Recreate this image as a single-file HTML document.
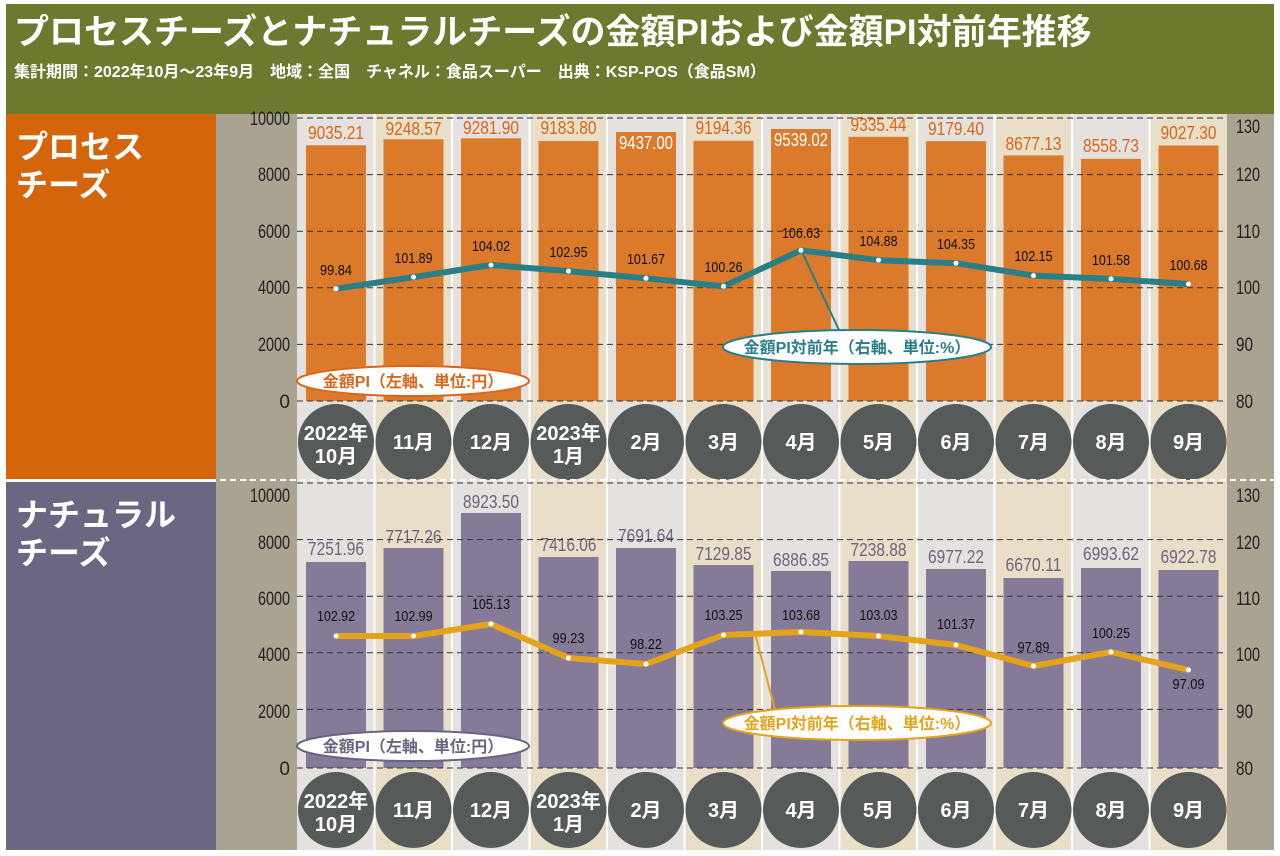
<!DOCTYPE html>
<html><head><meta charset="utf-8"><style>
html,body{margin:0;padding:0;background:#fff}
svg{display:block}
text{font-family:"Liberation Sans","Noto Sans CJK JP",sans-serif}
.j{font-family:"Liberation Sans","Noto Sans CJK JP",sans-serif;font-weight:bold}
.ax{font-size:19px;fill:#222}
.ob{font-size:18px;fill:#d9661a}
.pb{font-size:18px;fill:#6b6480}
.lv{font-size:15px;fill:#111}
</style></head><body>
<svg width="1280" height="856" viewBox="0 0 1280 856" xmlns="http://www.w3.org/2000/svg">
<rect x="0" y="0" width="1280" height="856" fill="#fff"/>
<rect x="6" y="4" width="1268" height="110" fill="#6b7a2e"/>
<text x="14" y="44" class="j" font-size="35" fill="#fff">プロセスチーズとナチュラルチーズの金額PIおよび金額PI対前年推移</text>
<text x="14" y="77" class="j" font-size="16" fill="#fff">集計期間：2022年10月～23年9月　地域：全国　チャネル：食品スーパー　出典：KSP-POS（食品SM）</text>
<rect x="6" y="114" width="210" height="365" fill="#d4650a"/>
<rect x="6" y="482" width="210" height="368" fill="#6c6682"/>
<text x="16" y="158" class="j" font-size="32" fill="#fff">プロセス</text>
<text x="16" y="196" class="j" font-size="32" fill="#fff">チーズ</text>
<text x="16" y="526" class="j" font-size="32" fill="#fff">ナチュラル</text>
<text x="16" y="564" class="j" font-size="32" fill="#fff">チーズ</text>
<rect x="216" y="114" width="81" height="736" fill="#aba392"/>
<rect x="1227" y="114" width="47" height="736" fill="#aba392"/>
<g>
<rect x="297" y="114" width="77.5" height="736" fill="#e5e1de"/>
<rect x="374.5" y="114" width="77.5" height="736" fill="#e9dfc9"/>
<rect x="452" y="114" width="77.5" height="736" fill="#e5e1de"/>
<rect x="529.5" y="114" width="77.5" height="736" fill="#e9dfc9"/>
<rect x="607" y="114" width="77.5" height="736" fill="#e5e1de"/>
<rect x="684.5" y="114" width="77.5" height="736" fill="#e9dfc9"/>
<rect x="762" y="114" width="77.5" height="736" fill="#e5e1de"/>
<rect x="839.5" y="114" width="77.5" height="736" fill="#e9dfc9"/>
<rect x="917" y="114" width="77.5" height="736" fill="#e5e1de"/>
<rect x="994.5" y="114" width="77.5" height="736" fill="#e9dfc9"/>
<rect x="1072" y="114" width="77.5" height="736" fill="#e5e1de"/>
<rect x="1149.5" y="114" width="77.5" height="736" fill="#e9dfc9"/>
</g>
<g stroke="#fff" stroke-width="2">
<line x1="374.5" y1="114" x2="374.5" y2="850"/><line x1="452" y1="114" x2="452" y2="850"/><line x1="529.5" y1="114" x2="529.5" y2="850"/><line x1="607" y1="114" x2="607" y2="850"/><line x1="684.5" y1="114" x2="684.5" y2="850"/><line x1="762" y1="114" x2="762" y2="850"/><line x1="839.5" y1="114" x2="839.5" y2="850"/><line x1="917" y1="114" x2="917" y2="850"/><line x1="994.5" y1="114" x2="994.5" y2="850"/><line x1="1072" y1="114" x2="1072" y2="850"/><line x1="1149.5" y1="114" x2="1149.5" y2="850"/>
</g>
<g fill="#db7a2b">
<rect x="306" y="145.3" width="60" height="255.7"/>
<rect x="383.5" y="139.3" width="60" height="261.7"/>
<rect x="461" y="138.3" width="60" height="262.7"/>
<rect x="538.5" y="141.1" width="60" height="259.9"/>
<rect x="616" y="132" width="60" height="269"/>
<rect x="693.5" y="140.8" width="60" height="260.2"/>
<rect x="771" y="129" width="60" height="272"/>
<rect x="848.5" y="136.8" width="60" height="264.2"/>
<rect x="926" y="141.2" width="60" height="259.8"/>
<rect x="1003.5" y="155.4" width="60" height="245.6"/>
<rect x="1081" y="158.8" width="60" height="242.2"/>
<rect x="1158.5" y="145.5" width="60" height="255.5"/>
</g>
<g text-anchor="middle" lengthAdjust="spacingAndGlyphs">
<text x="336" y="139" class="ob" textLength="56" lengthAdjust="spacingAndGlyphs">9035.21</text>
<text x="413.5" y="135" class="ob" textLength="56" lengthAdjust="spacingAndGlyphs">9248.57</text>
<text x="491" y="134" class="ob" textLength="56" lengthAdjust="spacingAndGlyphs">9281.90</text>
<text x="568.5" y="134" class="ob" textLength="56" lengthAdjust="spacingAndGlyphs">9183.80</text>
<text x="646" y="149" class="ob" style="fill:#fff" textLength="54" lengthAdjust="spacingAndGlyphs">9437.00</text>
<text x="723.5" y="134" class="ob" textLength="56" lengthAdjust="spacingAndGlyphs">9194.36</text>
<text x="801" y="146" class="ob" style="fill:#fff" textLength="54" lengthAdjust="spacingAndGlyphs">9539.02</text>
<text x="878.5" y="131" class="ob" textLength="56" lengthAdjust="spacingAndGlyphs">9335.44</text>
<text x="956" y="135" class="ob" textLength="56" lengthAdjust="spacingAndGlyphs">9179.40</text>
<text x="1033.5" y="150" class="ob" textLength="56" lengthAdjust="spacingAndGlyphs">8677.13</text>
<text x="1111" y="152" class="ob" textLength="56" lengthAdjust="spacingAndGlyphs">8558.73</text>
<text x="1188.5" y="139" class="ob" textLength="56" lengthAdjust="spacingAndGlyphs">9027.30</text>
</g>
<g stroke="#333" stroke-width="1" stroke-dasharray="6,4">
<line x1="297" y1="118" x2="1227" y2="118"/><line x1="297" y1="174.6" x2="1227" y2="174.6"/><line x1="297" y1="231.2" x2="1227" y2="231.2"/><line x1="297" y1="287.8" x2="1227" y2="287.8"/><line x1="297" y1="344.4" x2="1227" y2="344.4"/><line x1="297" y1="401" x2="1227" y2="401"/>
</g>
<g text-anchor="end">
<text x="290" y="125" class="ax" textLength="40" lengthAdjust="spacingAndGlyphs">10000</text><text x="290" y="181" class="ax" textLength="32" lengthAdjust="spacingAndGlyphs">8000</text><text x="290" y="238" class="ax" textLength="32" lengthAdjust="spacingAndGlyphs">6000</text><text x="290" y="294" class="ax" textLength="32" lengthAdjust="spacingAndGlyphs">4000</text><text x="290" y="351" class="ax" textLength="32" lengthAdjust="spacingAndGlyphs">2000</text><text x="290" y="408" class="ax">0</text>
</g>
<g>
<text x="1236" y="133" class="ax" textLength="24" lengthAdjust="spacingAndGlyphs">130</text><text x="1236" y="181" class="ax" textLength="24" lengthAdjust="spacingAndGlyphs">120</text><text x="1236" y="238" class="ax" textLength="24" lengthAdjust="spacingAndGlyphs">110</text><text x="1236" y="294" class="ax" textLength="24" lengthAdjust="spacingAndGlyphs">100</text><text x="1236" y="351" class="ax" textLength="17" lengthAdjust="spacingAndGlyphs">90</text><text x="1236" y="408" class="ax" textLength="17" lengthAdjust="spacingAndGlyphs">80</text>
</g>
<line x1="801" y1="250" x2="840" y2="332" stroke="#2a7f86" stroke-width="2"/>
<polyline points="336,288.7 413.5,277.1 491,265 568.5,271.1 646,278.3 723.5,286.3 801,250.3 878.5,260.2 956,263.2 1033.5,275.6 1111,278.9 1188.5,284" fill="none" stroke="#2a7f86" stroke-width="6" stroke-linejoin="round"/>
<g fill="#fff"><circle cx="336" cy="288.7" r="2.5"/><circle cx="413.5" cy="277.1" r="2.5"/><circle cx="491" cy="265" r="2.5"/><circle cx="568.5" cy="271.1" r="2.5"/><circle cx="646" cy="278.3" r="2.5"/><circle cx="723.5" cy="286.3" r="2.5"/><circle cx="801" cy="250.3" r="2.5"/><circle cx="878.5" cy="260.2" r="2.5"/><circle cx="956" cy="263.2" r="2.5"/><circle cx="1033.5" cy="275.6" r="2.5"/><circle cx="1111" cy="278.9" r="2.5"/><circle cx="1188.5" cy="284" r="2.5"/></g>
<g text-anchor="middle">
<text x="336" y="275" class="lv" textLength="32" lengthAdjust="spacingAndGlyphs">99.84</text><text x="413.5" y="263" class="lv" textLength="38" lengthAdjust="spacingAndGlyphs">101.89</text><text x="491" y="251" class="lv" textLength="38" lengthAdjust="spacingAndGlyphs">104.02</text><text x="568.5" y="257" class="lv" textLength="38" lengthAdjust="spacingAndGlyphs">102.95</text><text x="646" y="264" class="lv" textLength="38" lengthAdjust="spacingAndGlyphs">101.67</text><text x="723.5" y="272" class="lv" textLength="38" lengthAdjust="spacingAndGlyphs">100.26</text><text x="801" y="238" class="lv" textLength="38" lengthAdjust="spacingAndGlyphs">106.63</text><text x="878.5" y="246" class="lv" textLength="38" lengthAdjust="spacingAndGlyphs">104.88</text><text x="956" y="249" class="lv" textLength="38" lengthAdjust="spacingAndGlyphs">104.35</text><text x="1033.5" y="261" class="lv" textLength="38" lengthAdjust="spacingAndGlyphs">102.15</text><text x="1111" y="265" class="lv" textLength="38" lengthAdjust="spacingAndGlyphs">101.58</text><text x="1188.5" y="270" class="lv" textLength="38" lengthAdjust="spacingAndGlyphs">100.68</text>
</g>
<ellipse cx="413" cy="381" rx="116" ry="15" fill="#fff" stroke="#d9661a" stroke-width="2"/>
<text x="413" y="387" text-anchor="middle" class="j" font-size="16" fill="#d9661a">金額PI（左軸、単位:円）</text>
<ellipse cx="857" cy="347" rx="134" ry="17" fill="#fff" stroke="#2a7f86" stroke-width="2"/>
<text x="857" y="353" text-anchor="middle" class="j" font-size="16" fill="#2a7f86">金額PI対前年（右軸、単位:%）</text>
<g fill="#565a58">
<circle cx="336" cy="442" r="38"/><circle cx="413.5" cy="442" r="38"/><circle cx="491" cy="442" r="38"/><circle cx="568.5" cy="442" r="38"/><circle cx="646" cy="442" r="38"/><circle cx="723.5" cy="442" r="38"/><circle cx="801" cy="442" r="38"/><circle cx="878.5" cy="442" r="38"/><circle cx="956" cy="442" r="38"/><circle cx="1033.5" cy="442" r="38"/><circle cx="1111" cy="442" r="38"/><circle cx="1188.5" cy="442" r="38"/>
</g>
<g text-anchor="middle" class="j" font-size="20" fill="#fff">
<text x="336" y="440">2022年</text><text x="336" y="463">10月</text>
<text x="413.5" y="449">11月</text><text x="491" y="449">12月</text>
<text x="568.5" y="440">2023年</text><text x="568.5" y="463">1月</text>
<text x="646" y="449">2月</text><text x="723.5" y="449">3月</text><text x="801" y="449">4月</text><text x="878.5" y="449">5月</text><text x="956" y="449">6月</text><text x="1033.5" y="449">7月</text><text x="1111" y="449">8月</text><text x="1188.5" y="449">9月</text>
</g>
<line x1="0" y1="480" x2="1280" y2="480" stroke="#fff" stroke-width="2" stroke-dasharray="6,4"/>
<g fill="#857b98">
<rect x="306" y="562" width="60" height="206"/>
<rect x="383.5" y="548" width="60" height="220"/>
<rect x="461" y="513" width="60" height="255"/>
<rect x="538.5" y="557" width="60" height="211"/>
<rect x="616" y="548" width="60" height="220"/>
<rect x="693.5" y="565" width="60" height="203"/>
<rect x="771" y="571" width="60" height="197"/>
<rect x="848.5" y="561" width="60" height="207"/>
<rect x="926" y="569" width="60" height="199"/>
<rect x="1003.5" y="578" width="60" height="190"/>
<rect x="1081" y="568" width="60" height="200"/>
<rect x="1158.5" y="570" width="60" height="198"/>
</g>
<g text-anchor="middle">
<text x="336" y="555" class="pb" textLength="56" lengthAdjust="spacingAndGlyphs">7251.96</text>
<text x="413.5" y="543" class="pb" textLength="56" lengthAdjust="spacingAndGlyphs">7717.26</text>
<text x="491" y="508" class="pb" textLength="56" lengthAdjust="spacingAndGlyphs">8923.50</text>
<text x="568.5" y="551" class="pb" textLength="56" lengthAdjust="spacingAndGlyphs">7416.06</text>
<text x="646" y="542" class="pb" textLength="56" lengthAdjust="spacingAndGlyphs">7691.64</text>
<text x="723.5" y="560" class="pb" textLength="56" lengthAdjust="spacingAndGlyphs">7129.85</text>
<text x="801" y="566" class="pb" textLength="56" lengthAdjust="spacingAndGlyphs">6886.85</text>
<text x="878.5" y="556" class="pb" textLength="56" lengthAdjust="spacingAndGlyphs">7238.88</text>
<text x="956" y="563" class="pb" textLength="56" lengthAdjust="spacingAndGlyphs">6977.22</text>
<text x="1033.5" y="571" class="pb" textLength="56" lengthAdjust="spacingAndGlyphs">6670.11</text>
<text x="1111" y="560" class="pb" textLength="56" lengthAdjust="spacingAndGlyphs">6993.62</text>
<text x="1188.5" y="563" class="pb" textLength="56" lengthAdjust="spacingAndGlyphs">6922.78</text>
</g>
<g stroke="#333" stroke-width="1" stroke-dasharray="6,4">
<line x1="297" y1="483" x2="1227" y2="483"/><line x1="297" y1="539.6" x2="1227" y2="539.6"/><line x1="297" y1="596.2" x2="1227" y2="596.2"/><line x1="297" y1="652.8" x2="1227" y2="652.8"/><line x1="297" y1="709.4" x2="1227" y2="709.4"/><line x1="297" y1="768" x2="1227" y2="768"/>
</g>
<g text-anchor="end">
<text x="290" y="502" class="ax" textLength="40" lengthAdjust="spacingAndGlyphs">10000</text><text x="290" y="549" class="ax" textLength="32" lengthAdjust="spacingAndGlyphs">8000</text><text x="290" y="605" class="ax" textLength="32" lengthAdjust="spacingAndGlyphs">6000</text><text x="290" y="661" class="ax" textLength="32" lengthAdjust="spacingAndGlyphs">4000</text><text x="290" y="718" class="ax" textLength="32" lengthAdjust="spacingAndGlyphs">2000</text><text x="290" y="775" class="ax">0</text>
</g>
<g>
<text x="1236" y="502" class="ax" textLength="24" lengthAdjust="spacingAndGlyphs">130</text><text x="1236" y="549" class="ax" textLength="24" lengthAdjust="spacingAndGlyphs">120</text><text x="1236" y="605" class="ax" textLength="24" lengthAdjust="spacingAndGlyphs">110</text><text x="1236" y="661" class="ax" textLength="24" lengthAdjust="spacingAndGlyphs">100</text><text x="1236" y="718" class="ax" textLength="17" lengthAdjust="spacingAndGlyphs">90</text><text x="1236" y="775" class="ax" textLength="17" lengthAdjust="spacingAndGlyphs">80</text>
</g>
<line x1="756" y1="637" x2="775" y2="710" stroke="#e3a31a" stroke-width="2"/>
<polyline points="336,636 413.5,636 491,624 568.5,658 646,664 723.5,635 801,632 878.5,636 956,645 1033.5,666 1111,652 1188.5,670" fill="none" stroke="#e3a31a" stroke-width="6" stroke-linejoin="round"/>
<g fill="#fff"><circle cx="336" cy="636" r="2.5"/><circle cx="413.5" cy="636" r="2.5"/><circle cx="491" cy="624" r="2.5"/><circle cx="568.5" cy="658" r="2.5"/><circle cx="646" cy="664" r="2.5"/><circle cx="723.5" cy="635" r="2.5"/><circle cx="801" cy="632" r="2.5"/><circle cx="878.5" cy="636" r="2.5"/><circle cx="956" cy="645" r="2.5"/><circle cx="1033.5" cy="666" r="2.5"/><circle cx="1111" cy="652" r="2.5"/><circle cx="1188.5" cy="670" r="2.5"/></g>
<g text-anchor="middle">
<text x="336" y="621" class="lv" textLength="38" lengthAdjust="spacingAndGlyphs">102.92</text><text x="413.5" y="621" class="lv" textLength="38" lengthAdjust="spacingAndGlyphs">102.99</text><text x="491" y="609" class="lv" textLength="38" lengthAdjust="spacingAndGlyphs">105.13</text><text x="568.5" y="643" class="lv" textLength="32" lengthAdjust="spacingAndGlyphs">99.23</text><text x="646" y="649" class="lv" textLength="32" lengthAdjust="spacingAndGlyphs">98.22</text><text x="723.5" y="620" class="lv" textLength="38" lengthAdjust="spacingAndGlyphs">103.25</text><text x="801" y="620" class="lv" textLength="38" lengthAdjust="spacingAndGlyphs">103.68</text><text x="878.5" y="620" class="lv" textLength="38" lengthAdjust="spacingAndGlyphs">103.03</text><text x="956" y="629" class="lv" textLength="38" lengthAdjust="spacingAndGlyphs">101.37</text><text x="1033.5" y="652" class="lv" textLength="32" lengthAdjust="spacingAndGlyphs">97.89</text><text x="1111" y="638" class="lv" textLength="38" lengthAdjust="spacingAndGlyphs">100.25</text><text x="1188.5" y="689" class="lv" textLength="32" lengthAdjust="spacingAndGlyphs">97.09</text>
</g>
<ellipse cx="413" cy="746" rx="116" ry="15" fill="#fff" stroke="#6b6480" stroke-width="2"/>
<text x="413" y="752" text-anchor="middle" class="j" font-size="16" fill="#6b6480">金額PI（左軸、単位:円）</text>
<ellipse cx="857" cy="723" rx="134" ry="17" fill="#fff" stroke="#e3a31a" stroke-width="2"/>
<text x="857" y="729" text-anchor="middle" class="j" font-size="16" fill="#e3a31a">金額PI対前年（右軸、単位:%）</text>
<g fill="#565a58">
<circle cx="336" cy="810" r="38"/><circle cx="413.5" cy="810" r="38"/><circle cx="491" cy="810" r="38"/><circle cx="568.5" cy="810" r="38"/><circle cx="646" cy="810" r="38"/><circle cx="723.5" cy="810" r="38"/><circle cx="801" cy="810" r="38"/><circle cx="878.5" cy="810" r="38"/><circle cx="956" cy="810" r="38"/><circle cx="1033.5" cy="810" r="38"/><circle cx="1111" cy="810" r="38"/><circle cx="1188.5" cy="810" r="38"/>
</g>
<g text-anchor="middle" class="j" font-size="20" fill="#fff">
<text x="336" y="808">2022年</text><text x="336" y="831">10月</text>
<text x="413.5" y="817">11月</text><text x="491" y="817">12月</text>
<text x="568.5" y="808">2023年</text><text x="568.5" y="831">1月</text>
<text x="646" y="817">2月</text><text x="723.5" y="817">3月</text><text x="801" y="817">4月</text><text x="878.5" y="817">5月</text><text x="956" y="817">6月</text><text x="1033.5" y="817">7月</text><text x="1111" y="817">8月</text><text x="1188.5" y="817">9月</text>
</g>
</svg>
</body></html>
